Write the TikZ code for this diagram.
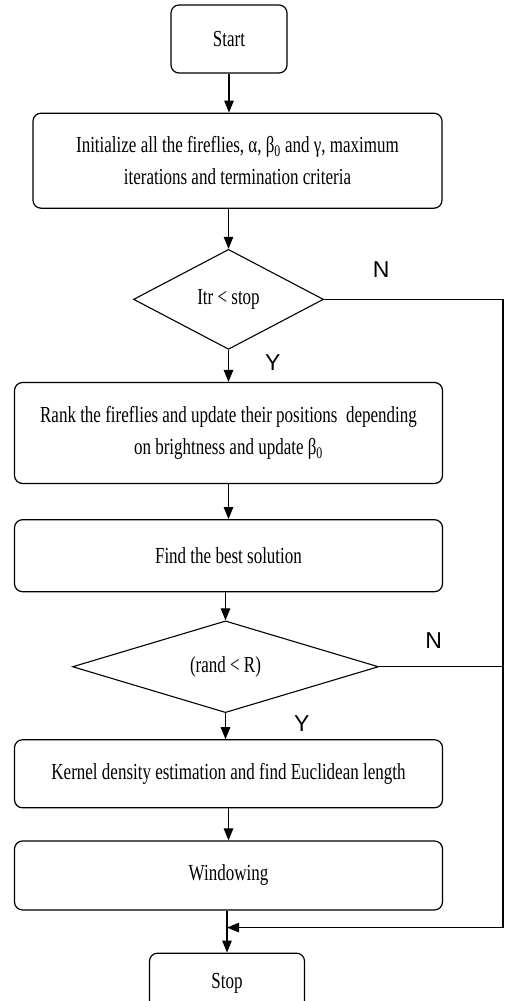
\documentclass[tikz,border=0pt]{standalone}
\usepackage{fontspec}
\setmainfont{Liberation Serif}
\newfontfamily\labelfont{Liberation Sans}
\usetikzlibrary{shapes.geometric, arrows.meta, positioning}
\newcommand{\tallText}[1]{\scalebox{1}[1.35]{#1}}

\begin{document}
\begin{tikzpicture}[x=1pt, y=1pt, >={Triangle[length=12pt,width=9.5pt]}]
        % Style definitions
        \tikzstyle{block} = [draw, line width=1.2pt, rectangle, rounded corners=8pt, minimum width=428pt, align=center, font=\fontsize{17}{32}\selectfont]
        \tikzstyle{term} = [block, minimum width=116pt, minimum height=68pt]
        \tikzstyle{decision} = [draw, line width=1.1pt, diamond, inner sep=0pt, font=\fontsize{17}{20}\selectfont]
        \tikzstyle{yn} = [inner sep=0pt, font=\labelfont\fontsize{23}{23}\selectfont]
        \tikzstyle{line} = [draw, line width=1.2pt]

        \useasboundingbox (0,0) rectangle (506,-1001);

        % Flow Nodes
        \node [term] (start) at (229,-39) {\tallText{Start}};
        \node [block, minimum width=409pt, minimum height=95pt, below=39pt of start, xshift=8.5pt] (init) {\tallText{Initialize all the fireflies, α, β\textsubscript{0} and γ, maximum}\\ \tallText{iterations and termination criteria}};
        \node [decision, minimum width=190pt, minimum height=100pt, below=40pt of init, xshift=-9pt] (itr) {\tallText{Itr < stop}};
        \node [block, minimum height=101pt, below=32pt of itr] (rank) {\tallText{Rank the fireflies and update their positions\ \ depending}\\ \tallText{on brightness and update β\textsubscript{0}}};
        \node [block, minimum height=72pt, below=35pt of rank] (best) {\tallText{Find the best solution}};
        \node [decision, minimum width=306pt, minimum height=88pt, below=28pt of best, xshift=-3pt] (rnd) {\tallText{(rand < R)}};
        \node [block, minimum height=68pt, below=26pt of rnd, xshift=3pt] (kde) {\tallText{Kernel density estimation and find Euclidean length}};
        \node [block, minimum height=69pt, below=32pt of kde] (win) {\tallText{Windowing}};
        \node [term, minimum width=155pt, minimum height=60pt, below=42pt of win, xshift=-1.5pt] (stop) {\tallText{Stop}};

        % Branch labels
        \node [yn, above right=21.5pt and 48.5pt of itr.east, anchor=south west] (itrn) {N};
        \node [yn, below right=4.5pt and 36.5pt of itr.south, anchor=north west] (itry) {Y};
        \node [yn, above right=18.5pt and 46pt of rnd.east, anchor=south west] (rndn) {N};
        \node [yn, below right=2.5pt and 68.5pt of rnd.south, anchor=north west] (rndy) {Y};

        % Return path
        \coordinate [right=179pt of itr.east] (corner);
        \coordinate [above=25pt of stop.north] (join);

        % Arrows
        \draw [line, ->] (start.south) -- (start.south |- init.north);
        \draw [line, ->] (itr.north |- init.south) -- (itr.north);
        \draw [line, ->] (itr.south) -- (itr.south |- rank.north);
        \draw [line, ->] (rank) -- (best);
        \draw [line, ->] (rnd.north |- best.south) -- (rnd.north);
        \draw [line, ->] (rnd.south) -- (rnd.south |- kde.north);
        \draw [line, ->] (kde) -- (win);
        \draw [line, ->] (stop.north |- win.south) -- (stop.north);
        \draw [line, ->] (itr.east) -- (corner) |- (join);
        \draw [line] (rnd.east) -- (rnd.east -| corner);
    \end{tikzpicture}
\end{document}
